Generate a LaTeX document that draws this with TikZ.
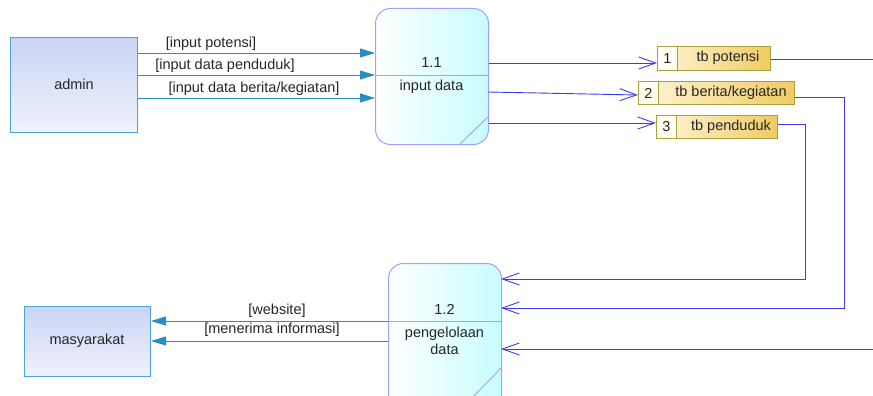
\documentclass[tikz,border=0pt]{standalone}
\usepackage{fontspec}
\setmainfont{Liberation Sans}
\usetikzlibrary{arrows.meta,calc}
\definecolor{entborder}{HTML}{4BA3DC}
\definecolor{entdark}{HTML}{C9D5F5}
\definecolor{entlight}{HTML}{F0F2FD}
\definecolor{aflowc}{HTML}{2A8BC8}
\definecolor{procborder}{HTML}{9FA0FF}
\definecolor{proccyan}{HTML}{C8FCFD}
\definecolor{sflowc}{HTML}{3A3AF5}
\definecolor{stborder}{HTML}{A8A040}
\definecolor{stlight}{HTML}{FFF6D8}
\definecolor{stdark}{HTML}{F1CB62}
\definecolor{stcell}{HTML}{FFFDF0}
\definecolor{txt}{HTML}{262626}
\tikzset{
  entity/.style={draw=entborder, line width=1pt, top color=entdark, bottom color=entlight, anchor=north west, inner sep=0pt},
  proc/.style={draw=procborder, line width=1pt, rounded corners=15pt, left color=white, right color=proccyan, anchor=north west, inner sep=0pt},
  store/.style={draw=stborder, line width=0.9pt, left color=stlight, right color=stdark, anchor=north west, inner sep=0pt},
  stcellbox/.style={draw=stborder, line width=0.9pt, fill=stcell, anchor=north west, inner sep=0pt},
  aflow/.style={draw=aflowc, line width=0.9pt, -{Triangle[length=15pt,width=9pt]}},
  sflow/.style={draw=sflowc, line width=0.9pt, -{Straight Barb[length=17pt,width=12pt,line width=0.9pt]}},
  sline/.style={draw=sflowc, line width=0.9pt},
  lbl/.style={text=txt, inner sep=0pt},
  divider/.style={draw=procborder, line width=0.9pt}
}
\begin{document}
\begin{tikzpicture}[x=1pt,y=-1pt,font=\fontsize{14.5}{17}\selectfont]
\useasboundingbox (0,0) rectangle (873,396);
% entities
\node[entity, minimum width=127pt, minimum height=95pt] (admin) at (10,37) {};
\node[lbl] (admintxt) at (74,84) {admin};
\node[entity, minimum width=126pt, minimum height=70pt] (masy) at (24,306) {};
\node[lbl] (masytxt) at (87,341) {masyarakat};
% processes
\node[proc, minimum width=113pt, minimum height=136pt] (p11) at (375,8) {};
\draw[divider] (375,75) -- (488,75);
\draw[divider] (488,117) -- (460,144);
\node[lbl] (p11num) at (431.5,63) {1.1};
\node[lbl] (p11txt) at (431.5,87) {input data};
\begin{scope}
\clip (370,250) rectangle (510,396);
\node[proc, minimum width=113pt, minimum height=150pt] (p12) at (388,263) {};
\end{scope}
\draw[divider] (388,321) -- (501,321);
\draw[divider] (501,368) -- (474,396);
\node[lbl] (p12num) at (444.5,309) {1.2};
\node[lbl, align=center, font=\fontsize{14.5}{17}\selectfont] (p12txt) at (444.5,341) {pengelolaan\\data};
% stores
\node[store, minimum width=113pt, minimum height=24pt] (s1) at (657,46) {};
\node[stcellbox, minimum width=20pt, minimum height=24pt] (s1n) at (657,46) {};
\node[lbl] at (s1n.center) {1};
\node[lbl] (s1t) at (728,58) {tb potensi};
\node[store, minimum width=156pt, minimum height=23pt] (s2) at (638,81) {};
\node[stcellbox, minimum width=20pt, minimum height=23pt] (s2n) at (638,81) {};
\node[lbl] at (s2n.center) {2};
\node[lbl] (s2t) at (731,92.5) {tb berita/kegiatan};
\node[store, minimum width=121pt, minimum height=23pt] (s3) at (656,115) {};
\node[stcellbox, minimum width=20pt, minimum height=23pt] (s3n) at (656,115) {};
\node[lbl] at (s3n.center) {3};
\node[lbl] (s3t) at (731,126.5) {tb penduduk};
% admin flows
\draw[aflow] (admin.east |- 0,53) -- (p11.west |- 0,53);
\draw[aflow] (admin.east |- 0,75) -- (p11.west |- 0,75);
\draw[aflow] (admin.east |- 0,98) -- (p11.west |- 0,98);
\node[lbl] at (211,44) {[input potensi]};
\node[lbl] at (225,66) {[input data penduduk]};
\node[lbl] at (254,89) {[input data berita/kegiatan]};
% masyarakat flows
\draw[aflow] (388,321) -- (masy.east |- 0,321);
\draw[aflow] (388,341) -- (masy.east |- 0,341);
\node[lbl] at (277,311) {[website]};
\node[lbl] at (272,330) {[menerima informasi]};
% store flows
\draw[sflow] (p11.east |- 0,63) -- (s1.west |- 0,63);
\draw[sflow] (488,92) -- (s2.west |- 0,95);
\draw[sflow] (p11.east |- 0,123) -- (s3.west |- 0,123);
\coordinate (out1) at (873,59);
\draw[sline] (s1.east |- 0,59) -- (out1);
\draw[sflow] (s2.east |- 0,97) -| (844,308) -- (501,308);
\draw[sflow] (s3.east |- 0,124) -| (805,279) -- (501,279);
\coordinate (in3) at (873,349);
\draw[sflow] (in3) -- (501,349);
\end{tikzpicture}
\end{document}
